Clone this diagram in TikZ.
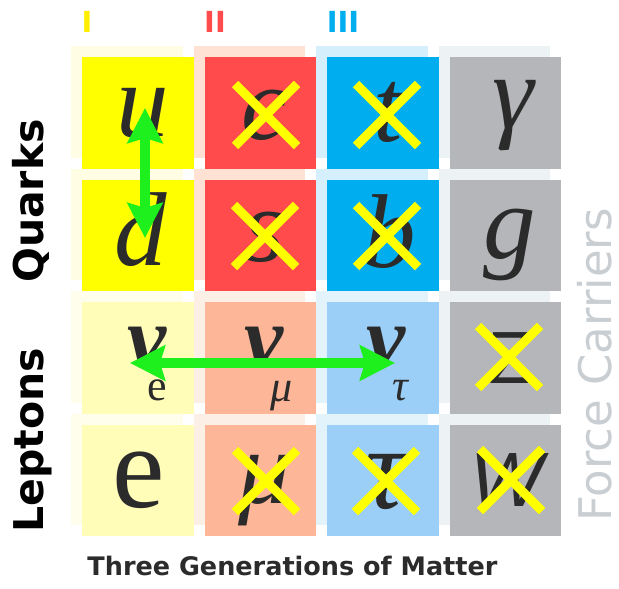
\documentclass[tikz,border=0pt]{standalone}
\usepackage{fontspec}
\newfontfamily\lserif{Liberation Serif}
\newfontfamily\lsans{Liberation Sans}
\newfontfamily\dvs{DejaVu Sans}
\usetikzlibrary{arrows.meta}
\definecolor{qyel}{HTML}{FFFF00}
\definecolor{qred}{HTML}{FF4B4B}
\definecolor{qblu}{HTML}{00AEEF}
\definecolor{gry}{HTML}{B4B6B9}
\definecolor{lyel}{HTML}{FFFDB8}
\definecolor{lred}{HTML}{FDB697}
\definecolor{lblu}{HTML}{9BCFF7}
\definecolor{sqyel}{HTML}{FFFDE4}
\definecolor{sqred}{HTML}{FFE2D3}
\definecolor{sqblu}{HTML}{D6EFFC}
\definecolor{sgry}{HTML}{EDF2F5}
\definecolor{slyel}{HTML}{FFFDEB}
\definecolor{slred}{HTML}{FCF0E6}
\definecolor{slblu}{HTML}{E3F3FC}
\definecolor{ink}{HTML}{2B2B2B}
\definecolor{arrgreen}{HTML}{1EF01E}
\definecolor{crossyel}{HTML}{FFFF00}
\definecolor{fcgray}{HTML}{C9CED3}
\definecolor{gIcol}{HTML}{FFEE00}
\begin{document}
\begin{tikzpicture}[x=1pt,y=-1pt,
  letter/.style={inner sep=0pt, text=ink, font=\lserif\itshape\fontsize{105}{105}\selectfont},
  nuletter/.style={inner sep=0pt, anchor=base, text=ink, font=\lserif\bfseries\itshape\fontsize{88}{88}\selectfont},
  subletter/.style={inner sep=0pt, anchor=base, text=ink, font=\lserif\fontsize{44}{44}\selectfont},
  crossline/.style={draw=crossyel, line width=9pt, line cap=butt},
  garrow/.style={draw=arrgreen, line width=10pt, {Stealth[length=35pt,width=35pt,inset=5pt]}-{Stealth[length=35pt,width=35pt,inset=5pt]}},
  xmark/.pic={\draw[crossline] (-31,-31) -- (31,31) (-31,31) -- (31,-31);},
  genlabel/.style={inner sep=0pt, font=\dvs\bfseries\fontsize{29}{29}\selectfont}
]
\useasboundingbox (0,0) rectangle (619,589);
\fill[white] (0,0) rectangle (619,589);
% shadows
\foreach \c/\r/\col in {0/0/sqyel,1/0/sqred,2/0/sqblu,3/0/sgry,0/1/sqyel,1/1/sqred,2/1/sqblu,3/1/sgry,0/2/slyel,1/2/slred,2/2/slblu,3/2/sgry,0/3/slyel,1/3/slred,2/3/slblu,3/3/sgry}
  \fill[\col] ({82+122.6*\c-11},{57+122.6*\r-11}) rectangle ++(111.5,111.5);
% cells
\foreach \c/\r/\col in {0/0/qyel,1/0/qred,2/0/qblu,3/0/gry,0/1/qyel,1/1/qred,2/1/qblu,3/1/gry,0/2/lyel,1/2/lred,2/2/lblu,3/2/gry,0/3/lyel,1/3/lred,2/3/lblu,3/3/gry}
  \fill[\col] ({82+122.6*\c},{57+122.6*\r}) rectangle ++(111.5,111.5);
% generation labels
\node[genlabel, text=gIcol] (gI) at (87,22) {I};
\node[genlabel, text=qred] (gII) at (215,22) {II};
\node[genlabel, text=qblu] (gIII) at (343,22) {III};
% quark letters
\node[letter] (u) at (143,113) {u};
\node[letter] (d) at (141,230) {d};
\node[letter] (c) at (265,115) {c};
\node[letter] (s) at (265,237) {s};
\node[letter] (t) at (388,112) {t};
\node[letter] (b) at (390,232) {b};
\node[letter] (gamma) at (513,116) {γ};
\node[letter] (g) at (510,245) {g};
% lepton letters
\node[nuletter] (nue) at (147,367) {ν};
\node[subletter] (sube) at (157.5,400) {e};
\node[nuletter] (numu) at (264,367) {ν};
\node[subletter, font=\lserif\itshape\fontsize{44}{44}\selectfont] (submu) at (282,401) {μ};
\node[nuletter] (nutau) at (386,367) {ν};
\node[subletter, font=\lserif\itshape\fontsize{44}{44}\selectfont] (subtau) at (400,400) {τ};
\node[letter, font=\lserif\fontsize{118}{118}\selectfont] (e) at (138.5,480.5) {e};
\node[letter] (mu) at (264.5,491) {μ};
\node[letter, font=\lserif\itshape\fontsize{118}{118}\selectfont] (tau) at (384.5,481.5) {τ};
\node[letter, font=\lsans\fontsize{74}{74}\selectfont] (Z) at (511,358.5) {Z};
\node[letter, font=\lsans\itshape\fontsize{77}{77}\selectfont] (W) at (506.5,480.5) {W};
% crosses
\pic at (266,115) {xmark};
\pic at (387,115) {xmark};
\pic at (265,236) {xmark};
\pic at (387,236) {xmark};
\pic at (509,357) {xmark};
\pic at (266,481) {xmark};
\pic at (386,481) {xmark};
\pic at (511,480) {xmark};
% arrows
\coordinate (uarr) at (145,108);
\coordinate (darr) at (145,238);
\coordinate (nuearr) at (130,363);
\coordinate (nutauarr) at (395,363);
\draw[garrow] (uarr) -- (darr);
\draw[garrow] (nuearr) -- (nutauarr);
% side labels
\node[rotate=90, anchor=base, inner sep=0pt, text=black, font=\dvs\bfseries\fontsize{41}{41}\selectfont] (quarks) at (43,201) {Quarks};
\node[rotate=90, anchor=base, inner sep=0pt, text=black, font=\dvs\bfseries\fontsize{41}{41}\selectfont] (leptons) at (43,440) {Leptons};
\node[rotate=90, anchor=base, inner sep=0pt, text=fcgray, font=\dvs\fontsize{45}{45}\selectfont] (force) at (611,365) {Force Carriers};
\node[anchor=base, inner sep=0pt, text=ink, font=\dvs\bfseries\fontsize{25.5}{25.5}\selectfont] (gen) at (292.5,575) {Three Generations of Matter};
\end{tikzpicture}
\end{document}
